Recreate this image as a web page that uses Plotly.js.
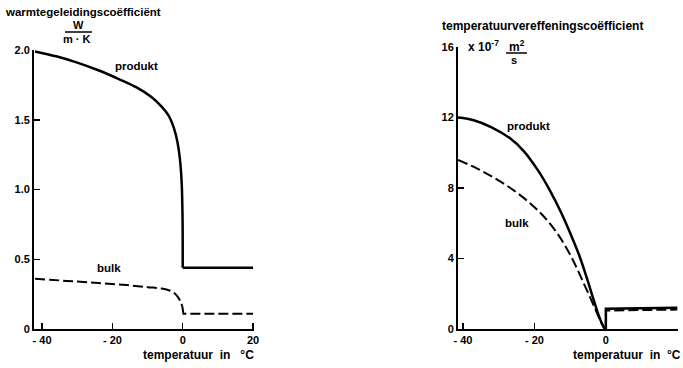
<!DOCTYPE html>
<html><head><meta charset="utf-8">
<script src="https://cdn.plot.ly/plotly-3.0.1.min.js"></script>
<style>html,body{margin:0;padding:0;background:#fff}#chart{width:683px;height:368px}</style>
</head><body><div id="chart"></div>
<script>
// Left chart: warmtegeleidingscoëfficiënt (W/(m·K))
const kProduktT = [-42, -36, -30, -24, -18, -13, -9, -6, -4, -2.5, -1.5, -0.8, -0.3, -0.05, 0];
const kProduktV = [1.99, 1.955, 1.91, 1.855, 1.79, 1.73, 1.665, 1.595, 1.53, 1.44, 1.34, 1.22, 1.05, 0.80, 0.44];
const kProduktStepT = [0, 20];
const kProduktStepV = [0.44, 0.44];
const kBulkT = [-42, -33, -24, -16, -10, -6, -4, -2.5, -1.4, -0.6, -0.1];
const kBulkV = [0.36, 0.345, 0.33, 0.315, 0.30, 0.29, 0.278, 0.26, 0.23, 0.195, 0.16];
const kBulkStepT = [-0.1, 0, 0.2, 20];
const kBulkStepV = [0.16, 0.13, 0.11, 0.11];

// Right chart: temperatuurvereffeningscoëfficient (x10^-7 m²/s)
const aProduktT = [-41.4, -37, -32, -27, -23, -19, -15.5, -12.5, -10, -7.5, -5.5, -3.8, -2.4, -1.2, -0.3];
const aProduktV = [12.0, 11.85, 11.45, 10.85, 10.1, 9.0, 7.8, 6.6, 5.45, 4.2, 3.0, 1.9, 1.0, 0.35, 0.0];
const aProduktStepT = [-0.3, 0, 0, 20];
const aProduktStepV = [0.0, 0.0, 1.15, 1.2];
const aBulkT = [-41.4, -36, -31, -26, -21, -17, -13.5, -10.5, -8, -6, -4.2, -2.7, -1.4, -0.3];
const aBulkV = [9.6, 9.1, 8.55, 7.9, 7.1, 6.3, 5.4, 4.4, 3.4, 2.5, 1.7, 1.0, 0.4, 0.0];
const aBulkStepT = [-0.3, 0, 0, 20];
const aBulkStepV = [0.0, 0.0, 1.05, 1.1];

const xTicks = [-40, -20, 0, 20];
const xTickText = ['- 40', '- 20', '0', '20'];
const leftYTicks = [0, 0.5, 1.0, 1.5, 2.0];
const leftYText = ['0', '0.5', '1.0', '1.5', '2.0'];
const rightYTicks = [0, 4, 8, 12, 16];
const rightYText = ['0', '4', '8', '12', '16'];

const F = {family: 'Liberation Sans, Arial, sans-serif', size: 11, color: '#000', weight: 'bold'};
const solid = {color: '#000', width: 2.5};
const dashed = {color: '#000', width: 2, dash: '10px,4px'};

function tr(x, y, line, xa, ya, smooth) {
  const l = Object.assign({}, line);
  if (smooth) { l.shape = 'spline'; l.smoothing = 1; }
  return {x: x, y: y, mode: 'lines', line: l, xaxis: xa, yaxis: ya, hoverinfo: 'skip'};
}

const traces = [
  tr(kProduktT, kProduktV, solid, 'x', 'y', true),
  tr(kProduktStepT, kProduktStepV, solid, 'x', 'y', false),
  tr(kBulkT, kBulkV, dashed, 'x', 'y', true),
  tr(kBulkStepT, kBulkStepV, dashed, 'x', 'y', false),
  tr(aProduktT, aProduktV, solid, 'x2', 'y2', true),
  tr(aProduktStepT, aProduktStepV, solid, 'x2', 'y2', false),
  tr(aBulkT, aBulkV, dashed, 'x2', 'y2', true),
  tr(aBulkStepT, aBulkStepV, dashed, 'x2', 'y2', false)
];

const axBase = {showline: true, linecolor: '#000', linewidth: 2, showgrid: false, zeroline: false,
  ticks: 'inside', ticklen: 6, tickwidth: 1.5, tickcolor: '#000', tickfont: F, fixedrange: true};

function ann(px, py, text, xanchor, size) {
  const f = Object.assign({}, F);
  if (size) f.size = size;
  return {xref: 'paper', yref: 'paper', x: px/683, y: 1 - py/368, xanchor: xanchor || 'left', yanchor: 'middle', text: text, showarrow: false, font: f};
}

const layout = {
  width: 683, height: 368, margin: {l: 0, r: 0, t: 0, b: 0},
  paper_bgcolor: '#fff', plot_bgcolor: '#fff', showlegend: false, font: F,
  xaxis: Object.assign({}, axBase, {domain: [0.0498, 0.372], range: [-42.3, 20.3], tickvals: xTicks, ticktext: xTickText, anchor: 'y'}),
  yaxis: Object.assign({}, axBase, {domain: [0.106, 0.864], range: [0, 2.0], tickvals: leftYTicks, ticktext: leftYText, anchor: 'x'}),
  xaxis2: Object.assign({}, axBase, {domain: [0.6706, 0.9927], range: [-41.4, 20.2], tickvals: xTicks, ticktext: xTickText, anchor: 'y2'}),
  yaxis2: Object.assign({}, axBase, {domain: [0.106, 0.872], range: [0, 16], tickvals: rightYTicks, ticktext: rightYText, anchor: 'x2'}),
  annotations: [
    ann(3, 12, 'warmtegeleidingscoëfficiënt', 'left', 11.5),
    ann(78, 25, 'W', 'center'),
    ann(77, 39, 'm · K', 'center'),
    ann(440, 26, 'temperatuurvereffeningscoëfficient', 'left', 12),
    ann(466, 46, 'x 10<sup>-7</sup>', 'left', 12),
    ann(517, 46, 'm<sup>2</sup>', 'center', 12),
    ann(514, 60, 's', 'center'),
    ann(256, 355, 'temperatuur  in   °C', 'right', 12),
    ann(683, 355, 'temperatuur  in  °C', 'right', 12),
    ann(113, 66, 'produkt', 'left', 11.5),
    ann(95, 268, 'bulk', 'left', 11.5),
    ann(505, 126, 'produkt', 'left', 11.5),
    ann(503, 223, 'bulk', 'left', 11.5)
  ],
  shapes: [
    {type: 'line', xref: 'paper', yref: 'paper', x0: 65/683, x1: 92/683, y0: 1 - 32/368, y1: 1 - 32/368, line: {color: '#000', width: 1.5}},
    {type: 'line', xref: 'paper', yref: 'paper', x0: 506/683, x1: 527/683, y0: 1 - 53/368, y1: 1 - 53/368, line: {color: '#000', width: 1.5}}
  ]
};

Plotly.newPlot('chart', traces, layout, {staticPlot: true, displayModeBar: false});
</script>
</body></html>
